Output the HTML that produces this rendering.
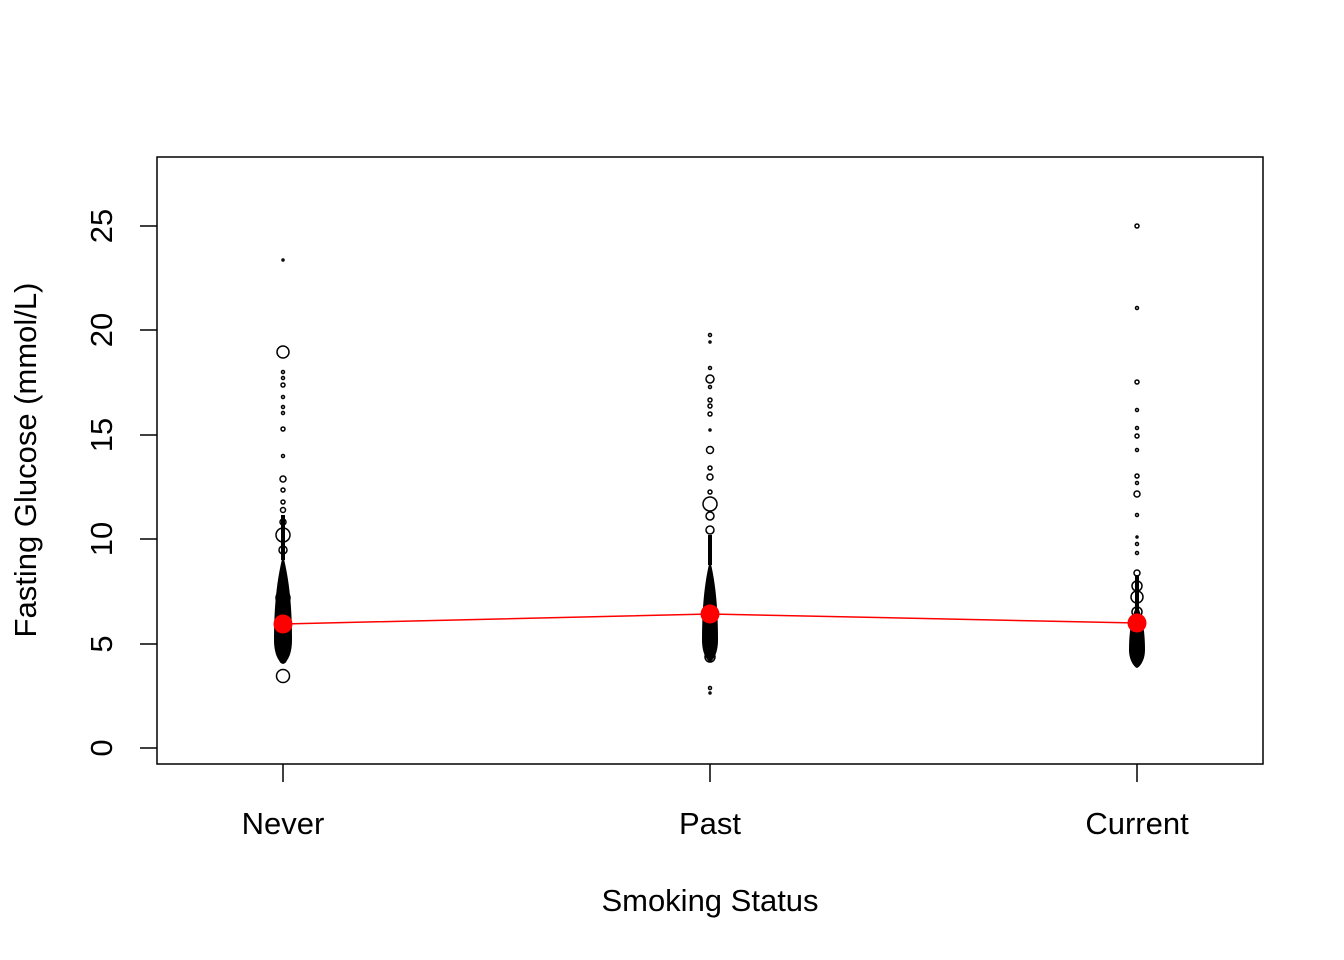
<!DOCTYPE html>
<html><head><meta charset="utf-8"><style>body{margin:0;background:#fff}svg{display:block}text{font-family:"Liberation Sans",Arial,sans-serif}</style></head><body>
<svg width="1344" height="960" viewBox="0 0 1344 960" xmlns="http://www.w3.org/2000/svg">
<rect x="157" y="157" width="1106" height="607" fill="none" stroke="#000" stroke-width="1.5"/>
<g stroke="#000" stroke-width="1.5">
<line x1="140" y1="748" x2="157" y2="748"/><line x1="140" y1="644" x2="157" y2="644"/><line x1="140" y1="539" x2="157" y2="539"/><line x1="140" y1="435" x2="157" y2="435"/><line x1="140" y1="330" x2="157" y2="330"/><line x1="140" y1="226" x2="157" y2="226"/>
<line x1="283" y1="764" x2="283" y2="782"/><line x1="710" y1="764" x2="710" y2="782"/><line x1="1137" y1="764" x2="1137" y2="782"/>
</g>
<g font-size="31" text-anchor="middle">
<text transform="translate(112,748) rotate(-90)">0</text>
<text transform="translate(112,644) rotate(-90)">5</text>
<text transform="translate(112,539) rotate(-90)">10</text>
<text transform="translate(112,435) rotate(-90)">15</text>
<text transform="translate(112,330) rotate(-90)">20</text>
<text transform="translate(112,226) rotate(-90)">25</text>
<text x="283" y="834">Never</text><text x="710" y="834">Past</text><text x="1137" y="834">Current</text>
<text x="710" y="911">Smoking Status</text>
<text transform="translate(36,460) rotate(-90)">Fasting Glucose (mmol/L)</text>
</g>
<g fill="none" stroke="#000" stroke-width="1.5">
<circle cx="283" cy="260" r="1"/><circle cx="283" cy="352" r="6"/><circle cx="283" cy="372" r="1.5"/><circle cx="283" cy="378" r="1.5"/><circle cx="283" cy="385" r="2"/><circle cx="283" cy="397" r="1.5"/><circle cx="283" cy="407" r="1.5"/><circle cx="283" cy="413" r="1.5"/><circle cx="283" cy="429" r="2"/><circle cx="283" cy="456" r="1.5"/><circle cx="283" cy="479" r="3"/><circle cx="283" cy="490" r="2"/><circle cx="283" cy="502" r="2"/><circle cx="283" cy="510" r="2.5"/><circle cx="283" cy="522" r="3"/><circle cx="283" cy="535" r="7"/><circle cx="283" cy="550" r="4"/><circle cx="283" cy="598" r="7"/><circle cx="283" cy="660" r="3"/><circle cx="283" cy="676" r="6.5"/>
<circle cx="710" cy="335" r="1.5"/><circle cx="710" cy="342" r="1"/><circle cx="710" cy="368" r="1.5"/><circle cx="710" cy="379" r="4"/><circle cx="710" cy="387" r="1.5"/><circle cx="710" cy="400" r="2"/><circle cx="710" cy="406" r="2"/><circle cx="710" cy="414" r="2"/><circle cx="710" cy="430" r="1"/><circle cx="710" cy="450" r="3.5"/><circle cx="710" cy="468" r="2"/><circle cx="710" cy="477" r="3"/><circle cx="710" cy="492" r="2"/><circle cx="710" cy="504" r="7"/><circle cx="710" cy="516" r="4"/><circle cx="710" cy="530" r="4"/><circle cx="710" cy="657" r="5"/><circle cx="710" cy="688" r="1.5"/><circle cx="710" cy="693" r="1"/>
<circle cx="1137" cy="226" r="2"/><circle cx="1137" cy="308" r="1.5"/><circle cx="1137" cy="382" r="2"/><circle cx="1137" cy="410" r="1.5"/><circle cx="1137" cy="428" r="1.5"/><circle cx="1137" cy="436" r="2"/><circle cx="1137" cy="450" r="1.5"/><circle cx="1137" cy="476" r="2"/><circle cx="1137" cy="483" r="1.5"/><circle cx="1137" cy="494" r="3"/><circle cx="1137" cy="515" r="1.5"/><circle cx="1137" cy="537" r="1"/><circle cx="1137" cy="544" r="1.5"/><circle cx="1137" cy="553" r="1.5"/><circle cx="1137" cy="573" r="3"/><circle cx="1137" cy="586" r="5"/><circle cx="1137" cy="597" r="6"/><circle cx="1137" cy="612" r="5"/><circle cx="1137" cy="648" r="4"/>
</g>
<g fill="#000">
<path d="M283,555 C288,575 292,600 292,640 C292,655 287,662 283,664 C279,662 274,655 274,640 C274,600 278,575 283,555Z"/>
<path d="M710,560 C715,580 718,605 718,640 C718,652 714,660 710,662 C706,660 702,652 702,640 C702,605 705,580 710,560Z"/>
<path d="M1137,605 C1142,615 1145,630 1145,650 C1145,660 1140,667 1137,668 C1134,667 1129,660 1129,650 C1129,630 1132,615 1137,605Z"/>
<rect x="281" y="515" width="4" height="45"/><rect x="708" y="535" width="4" height="30"/><rect x="1135" y="575" width="4" height="35"/>
</g>
<polyline points="283,624 710,614 1137,623" fill="none" stroke="#ff0000" stroke-width="1.5"/>
<g fill="#ff0000"><circle cx="283" cy="624" r="9.5"/><circle cx="710" cy="614" r="9.5"/><circle cx="1137" cy="623" r="9.5"/></g>
</svg>
</body></html>
